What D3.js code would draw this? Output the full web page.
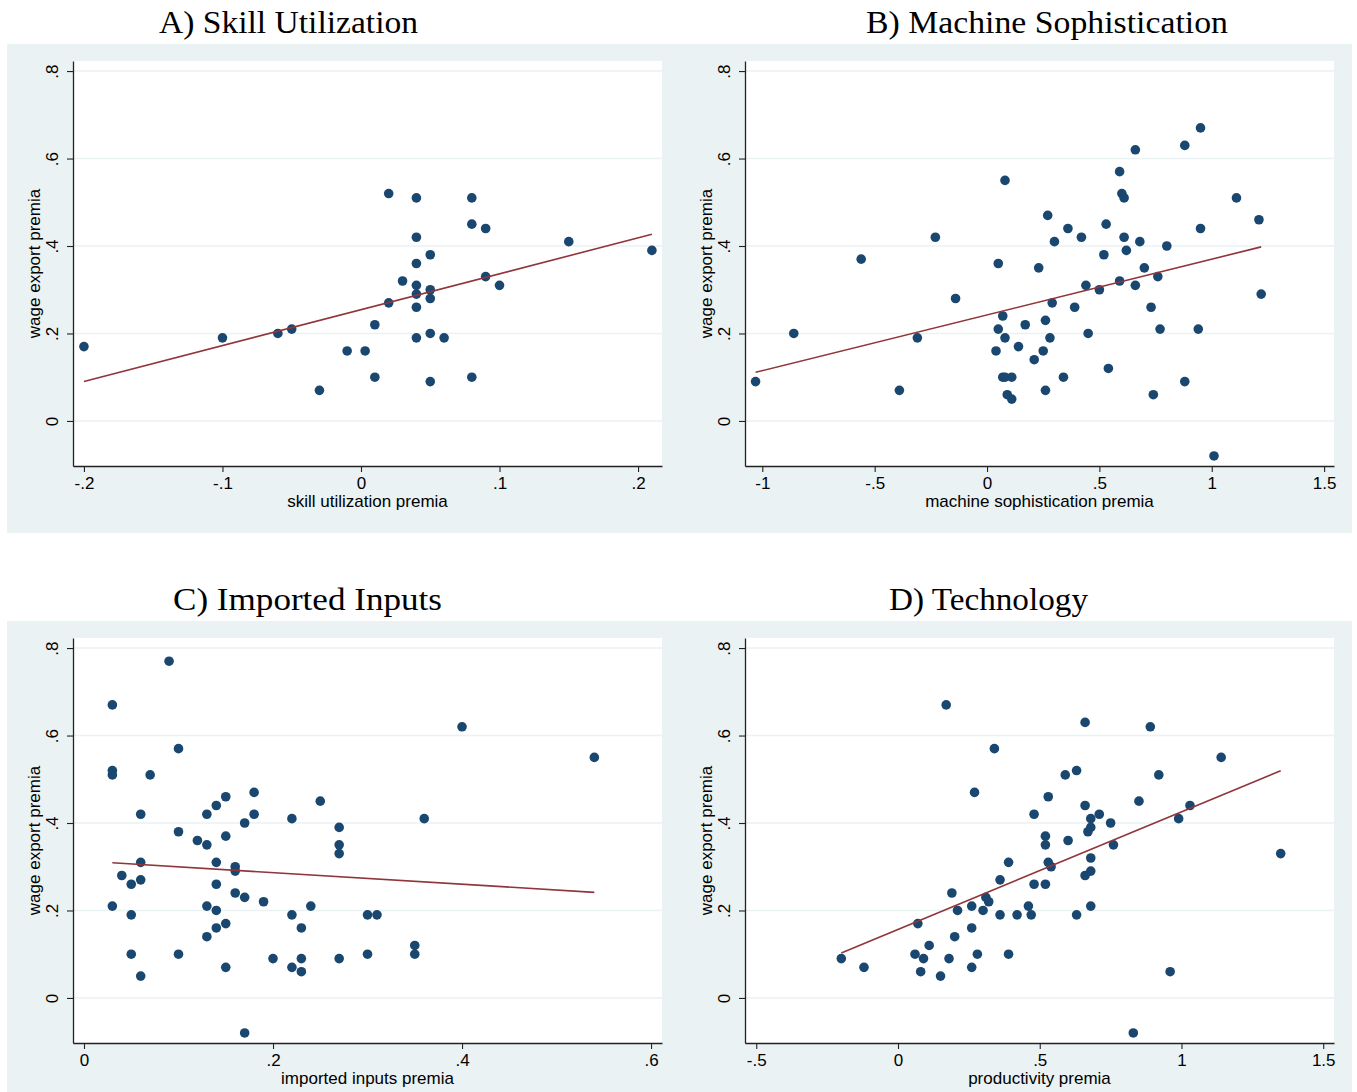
<!DOCTYPE html>
<html>
<head>
<meta charset="utf-8">
<script src="https://cdn.jsdelivr.net/npm/d3@7"></script>
<style>
  body { margin: 0; background: #fff; }
</style>
</head>
<body>
<div id="chart-area"></div>
<script>
// A) skill utilization
var skillX = [-0.2, -0.1, -0.06, -0.05, -0.03, -0.01, 0.003, 0.01, 0.01, 0.02, 0.02, 0.03,
    0.04, 0.04, 0.04, 0.04, 0.04, 0.04, 0.04, 0.05, 0.05, 0.05, 0.05, 0.05, 0.06,
    0.08, 0.08, 0.08, 0.09, 0.09, 0.10, 0.15, 0.21];
var skillY = [0.17, 0.19, 0.20, 0.21, 0.07, 0.16, 0.16, 0.22, 0.10, 0.52, 0.27, 0.32,
    0.51, 0.42, 0.36, 0.31, 0.29, 0.26, 0.19, 0.38, 0.30, 0.28, 0.20, 0.09, 0.19,
    0.51, 0.45, 0.10, 0.44, 0.33, 0.31, 0.41, 0.39];

// B) machine sophistication
var machineX = [0.95, 0.88, 0.66, 0.59, 0.08, 0.60, 0.61, 0.27, 0.36, 0.53, 0.95, -0.23,
    0.42, 0.61, 0.30, 0.68, 0.80, 0.62, 0.52, 0.05, 0.23, 0.70, 0.76, 0.59, 0.44, 0.66,
    0.50, -0.14, 0.29, 0.39, 0.73, 0.07, 0.26, 0.17, 0.05, 0.77, 0.94, 0.45, -0.31, 0.08,
    0.28, 0.14, 0.04, 0.25, 0.21, 0.54, 0.07, 0.08, 0.11, 0.34, 0.88, -0.39, 0.26, 0.09,
    0.74, 0.11, -1.03, -0.86, -0.56, 1.11, 1.21, 1.22, 1.01];
var machineY = [0.67, 0.63, 0.62, 0.57, 0.55, 0.52, 0.51, 0.47, 0.44, 0.45, 0.44, 0.42,
    0.42, 0.42, 0.41, 0.41, 0.40, 0.39, 0.38, 0.36, 0.35, 0.35, 0.33, 0.32, 0.31, 0.31,
    0.30, 0.28, 0.27, 0.26, 0.26, 0.24, 0.23, 0.22, 0.21, 0.21, 0.21, 0.20, 0.19, 0.19,
    0.19, 0.17, 0.16, 0.16, 0.14, 0.12, 0.10, 0.10, 0.10, 0.10, 0.09, 0.07, 0.07, 0.06,
    0.06, 0.05, 0.09, 0.20, 0.37, 0.51, 0.46, 0.29, -0.08];

// C) imported inputs
var importX = [0.03, 0.09, 0.03, 0.03, 0.10, 0.07, 0.06, 0.10, 0.06, 0.04, 0.05, 0.06,
    0.03, 0.05, 0.05, 0.06, 0.10, 0.12, 0.13, 0.13, 0.13, 0.13, 0.14, 0.14, 0.14, 0.14,
    0.14, 0.15, 0.15, 0.15, 0.15, 0.16, 0.16, 0.16, 0.17, 0.17, 0.17, 0.18, 0.18, 0.19,
    0.20, 0.22, 0.22, 0.22, 0.23, 0.23, 0.23, 0.24, 0.25, 0.27, 0.27, 0.27, 0.27, 0.30,
    0.31, 0.30, 0.35, 0.35, 0.36, 0.40, 0.54];
var importY = [0.67, 0.77, 0.52, 0.51, 0.57, 0.51, 0.42, 0.38, 0.31, 0.28, 0.26, 0.27,
    0.21, 0.19, 0.10, 0.05, 0.10, 0.36, 0.42, 0.35, 0.21, 0.14, 0.44, 0.31, 0.26, 0.20,
    0.16, 0.46, 0.37, 0.17, 0.07, 0.30, 0.29, 0.24, 0.40, 0.23, -0.08, 0.47, 0.42, 0.22,
    0.09, 0.41, 0.19, 0.07, 0.16, 0.09, 0.06, 0.21, 0.45, 0.39, 0.35, 0.33, 0.09, 0.19,
    0.19, 0.10, 0.12, 0.10, 0.41, 0.62, 0.55];

// D) technology
var techX = [-0.20, -0.12, 0.06, 0.07, 0.08, 0.09, 0.11, 0.15, 0.17, 0.18, 0.19, 0.20,
    0.21, 0.26, 0.26, 0.26, 0.27, 0.28, 0.30, 0.31, 0.32, 0.34, 0.36, 0.36, 0.39, 0.39,
    0.42, 0.46, 0.47, 0.48, 0.48, 0.52, 0.52, 0.52, 0.53, 0.53, 0.54, 0.59, 0.60, 0.63,
    0.63, 0.66, 0.66, 0.66, 0.67, 0.68, 0.68, 0.68, 0.68, 0.68, 0.71, 0.75, 0.76, 0.83,
    0.85, 0.89, 0.92, 0.96, 0.99, 1.03, 1.14, 1.35];
var techY = [0.09, 0.07, 0.10, 0.17, 0.06, 0.09, 0.12, 0.05, 0.67, 0.09, 0.24, 0.14,
    0.20, 0.21, 0.16, 0.07, 0.47, 0.10, 0.20, 0.23, 0.22, 0.57, 0.27, 0.19, 0.31, 0.10,
    0.19, 0.21, 0.19, 0.42, 0.26, 0.37, 0.35, 0.26, 0.46, 0.31, 0.30, 0.51, 0.36, 0.52,
    0.19, 0.63, 0.44, 0.28, 0.38, 0.41, 0.39, 0.32, 0.29, 0.21, 0.42, 0.40, 0.35, -0.08,
    0.45, 0.62, 0.51, 0.06, 0.41, 0.44, 0.55, 0.33];

var yTicks = [0, 0.2, 0.4, 0.6, 0.8];
var skillTicks = [-0.2, -0.1, 0, 0.1, 0.2];
var machineTicks = [-1, -0.5, 0, 0.5, 1, 1.5];
var importTicks = [0, 0.2, 0.4, 0.6];
var techTicks = [-0.5, 0, 0.5, 1, 1.5];

var titles = ["A) Skill Utilization", "B) Machine Sophistication", "C) Imported Inputs", "D) Technology"];
var xLabels = ["skill utilization premia", "machine sophistication premia", "imported inputs premia", "productivity premia"];
var yLabel = "wage export premia";

var width = 1357, height = 1092;
var plotW = 589, plotH = 405;
var yDomain = [-0.103, 0.823];

var svg = d3.select("#chart-area")
    .append("svg")
        .attr("width", width)
        .attr("height", height)
        .style("font-family", "'Liberation Sans', Arial, sans-serif");

// graph region background, one band per row
svg.selectAll("rect.bg")
    .data([{ y: 44, h: 489 }, { y: 621, h: 471 }])
    .enter().append("rect")
        .attr("class", "bg")
        .attr("x", 7).attr("y", function(d){ return d.y; })
        .attr("width", 1345).attr("height", function(d){ return d.h; })
        .attr("fill", "#eaf2f3");

var panels = [
    { xs: skillX, ys: skillY, ticks: skillTicks, xDomain: [-0.2079, 0.2173], left: 73, top: 61, tx: 288.5, ty: 33, tw: 259 },
    { xs: machineX, ys: machineY, ticks: machineTicks, xDomain: [-1.077, 1.544], left: 745, top: 61, tx: 1047, ty: 33, tw: 362 },
    { xs: importX, ys: importY, ticks: importTicks, xDomain: [-0.01164, 0.6116], left: 73, top: 638, tx: 307.5, ty: 610, tw: 269 },
    { xs: techX, ys: techY, ticks: techTicks, xDomain: [-0.5397, 1.538], left: 745, top: 638, tx: 988.5, ty: 610, tw: 199 }
];

// stata style labels: .2 instead of 0.2
function stataFmt(v) {
    return String(+v.toFixed(2)).replace(/^(-?)0\./, "$1.");
}

panels.forEach(function(p, i) {
    var g = svg.append("g")
        .attr("transform", "translate(" + p.left + "," + p.top + ")");

    var x = d3.scaleLinear().domain(p.xDomain).range([0, plotW]);
    var y = d3.scaleLinear().domain(yDomain).range([plotH, 0]);

    // title
    svg.append("text")
        .attr("x", p.tx).attr("y", p.ty)
        .attr("text-anchor", "middle")
        .attr("textLength", p.tw)
        .attr("lengthAdjust", "spacingAndGlyphs")
        .style("font-family", "'Liberation Serif', 'Times New Roman', serif")
        .style("font-size", "31px")
        .attr("fill", "#000")
        .text(titles[i]);

    g.append("rect")
        .attr("width", plotW).attr("height", plotH)
        .attr("fill", "#fff");

    // gridlines
    g.selectAll("line.grid")
        .data(yTicks)
        .enter().append("line")
            .attr("class", "grid")
            .attr("x1", 0).attr("x2", plotW)
            .attr("y1", function(d){ return y(d); })
            .attr("y2", function(d){ return y(d); })
            .attr("stroke", "#eaf2f3")
            .attr("stroke-width", 1.6);

    var xAxis = g.append("g")
        .attr("transform", "translate(0," + plotH + ")")
        .call(d3.axisBottom(x).tickValues(p.ticks).tickFormat(stataFmt)
            .tickSizeInner(6).tickSizeOuter(0).tickPadding(5));
    var yAxis = g.append("g")
        .call(d3.axisLeft(y).tickValues(yTicks).tickFormat(stataFmt)
            .tickSizeInner(6).tickSizeOuter(0));

    [xAxis, yAxis].forEach(function(a) {
        a.select(".domain").attr("stroke", "#222").attr("stroke-width", 1.3);
        a.selectAll(".tick line").attr("stroke", "#222").attr("stroke-width", 1.1);
        a.selectAll("text")
            .attr("fill", "#000")
            .style("font-size", "17px")
            .style("font-family", "'Liberation Sans', Arial, sans-serif");
    });
    yAxis.selectAll(".tick text")
        .attr("transform", "rotate(-90)")
        .attr("x", 0).attr("y", -15).attr("dy", 0)
        .attr("text-anchor", "middle");

    // axis titles
    g.append("text")
        .attr("x", plotW / 2).attr("y", plotH + 41)
        .attr("text-anchor", "middle")
        .style("font-size", "17px")
        .text(xLabels[i]);
    g.append("text")
        .attr("transform", "translate(-33," + (plotH / 2) + ") rotate(-90)")
        .attr("text-anchor", "middle")
        .style("font-size", "17px")
        .text(yLabel);

    // scatter
    var pts = p.xs.map(function(v, j){ return { x: v, y: p.ys[j] }; });
    g.selectAll("circle")
        .data(pts)
        .enter().append("circle")
            .attr("cx", function(d){ return x(d.x); })
            .attr("cy", function(d){ return y(d.y); })
            .attr("r", 4.8)
            .attr("fill", "#1a476f");

    // linear fit (OLS) over the data range
    var mx = d3.mean(p.xs), my = d3.mean(p.ys);
    var sxy = d3.sum(pts, function(d){ return (d.x - mx) * (d.y - my); });
    var sxx = d3.sum(pts, function(d){ return (d.x - mx) * (d.x - mx); });
    var b = sxy / sxx, a0 = my - b * mx;
    var ext = d3.extent(p.xs);
    var fit = ext.map(function(v){ return { x: v, y: a0 + b * v }; });

    g.append("path")
        .datum(fit)
        .attr("fill", "none")
        .attr("stroke", "#90353b")
        .attr("stroke-width", 1.6)
        .attr("d", d3.line()
            .x(function(d){ return x(d.x); })
            .y(function(d){ return y(d.y); }));
});
</script>
</body>
</html>
